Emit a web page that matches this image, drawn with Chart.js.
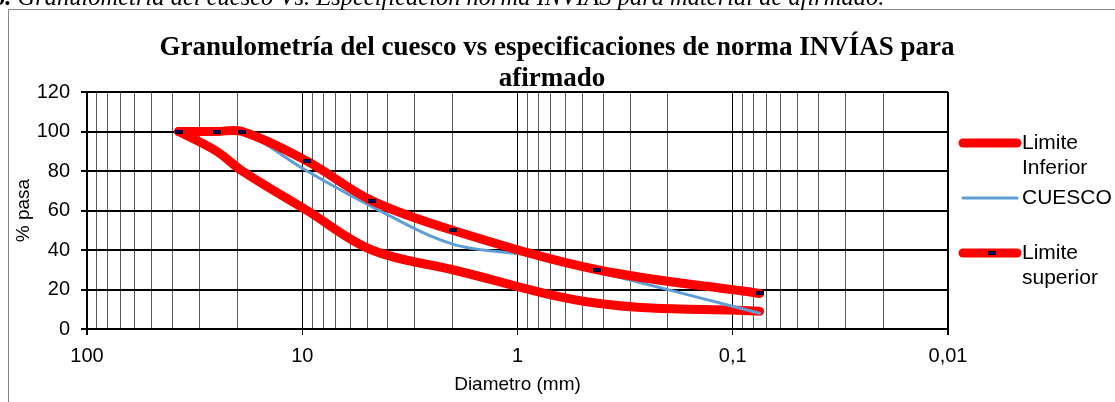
<!DOCTYPE html>
<html>
<head>
<meta charset="utf-8">
<script src="https://cdn.jsdelivr.net/npm/chart.js@4.4.0/dist/chart.umd.min.js"></script>
<style>
  html, body { margin: 0; padding: 0; background: #fff; overflow: hidden; }
  #myChart { position: absolute; left: 0; top: 0; }
</style>
</head>
<body>
<canvas id="myChart" width="1115" height="402"></canvas>
<script>
// sieve openings in mm and % passing
const limitSieves = [37.5, 25, 19, 9.5, 4.75, 2.0, 0.425, 0.075];
const lowerLimit = [100, 90, 80, 60, 40, 30, 13, 9];
const upperLimit = [100, 100, 100, 85, 65, 50, 30, 18];
const cuescoSieves = [37.5, 25, 19, 9.5, 4.75, 2.0, 0.85, 0.425, 0.075];
const cuescoPass = [100, 100, 100, 80, 62, 43, 37, 29, 8];

const xMajorTicks = [100, 10, 1, 0.1, 0.01];
const xMajorLabels = ['100', '10', '1', '0,1', '0,01'];
const seriesNames = ['Limite Inferior', 'CUESCO', 'Limite superior'];
const chartTitle = ['Granulometría del cuesco vs especificaciones de norma INVÍAS para', 'afirmado'];
const captionNum = '6.';
const captionText = ' Granulometría del cuesco Vs. Especificación norma INVIAS para material de afirmado.';

const sansFont = '"Liberation Sans", Arial, sans-serif';
const serifFont = '"Liberation Serif", "Times New Roman", serif';

// small navy rectangle used as marker for the upper limit
const marker = document.createElement('canvas');
marker.width = 8;
marker.height = 4;
const mctx = marker.getContext('2d');
mctx.fillStyle = '#000';
mctx.fillRect(0, 0, 8, 4);
mctx.fillStyle = '#00008b';
mctx.fillRect(1, 1, 6, 2);

function isMajor(v) {
  return xMajorTicks.some(m => Math.abs(m - v) < m * 1e-6);
}

function toPoints(xs, ys) {
  return xs.map((x, i) => ({ x: x, y: ys[i] }));
}

// title, legend and the outer frame of the sheet
const decorPlugin = {
  id: 'decor',
  beforeDraw(chart) {
    const ctx = chart.ctx;
    ctx.save();
    ctx.fillStyle = '#fff';
    ctx.fillRect(0, 0, chart.width, chart.height);
    ctx.strokeStyle = '#878787';
    ctx.lineWidth = 1;
    ctx.beginPath();
    ctx.moveTo(8.5, chart.height);
    ctx.lineTo(8.5, 9.5);
    ctx.lineTo(chart.width, 9.5);
    ctx.stroke();

    ctx.fillStyle = '#000';
    ctx.textBaseline = 'alphabetic';
    ctx.textAlign = 'left';
    ctx.font = 'italic bold 24.5px ' + serifFont;
    ctx.fillText(captionNum, -7, 5);
    const w = ctx.measureText(captionNum).width;
    ctx.font = 'italic 24.5px ' + serifFont;
    ctx.fillText(captionText, -7 + w, 5);
    ctx.restore();
  },
  afterDraw(chart) {
    const ctx = chart.ctx;
    ctx.save();
    ctx.fillStyle = '#000';
    ctx.textAlign = 'center';
    ctx.textBaseline = 'alphabetic';
    ctx.font = 'bold 27px ' + serifFont;
    ctx.fillText(chartTitle[0], 557, 55);
    ctx.fillText(chartTitle[1], 552, 86);

    const ds = chart.data.datasets;
    const rows = [
      { ds: ds[0], y: 143, lines: ['Limite', 'Inferior'] },
      { ds: ds[1], y: 198, lines: ['CUESCO'] },
      { ds: ds[2], y: 253, lines: ['Limite', 'superior'] }
    ];
    ctx.font = '21px ' + sansFont;
    ctx.textAlign = 'left';
    ctx.textBaseline = 'middle';
    rows.forEach(r => {
      ctx.strokeStyle = r.ds.borderColor;
      ctx.lineWidth = r.ds.borderWidth;
      ctx.lineCap = 'round';
      ctx.beginPath();
      ctx.moveTo(963, r.y);
      ctx.lineTo(1017, r.y);
      ctx.stroke();
      if (r.ds.pointRadius > 0) {
        ctx.drawImage(marker, 988, r.y - 2);
      }
      r.lines.forEach((t, i) => ctx.fillText(t, 1022, r.y + i * 25));
    });
    ctx.restore();
  }
};

const ctx = document.getElementById('myChart').getContext('2d');
const chart = new Chart(ctx, {
  type: 'line',
  data: {
    datasets: [
      {
        label: seriesNames[0],
        data: toPoints(limitSieves, lowerLimit),
        borderColor: '#ff0000',
        borderWidth: 9,
        borderCapStyle: 'round',
        borderJoinStyle: 'round',
        pointRadius: 0,
        tension: 0.35,
        order: 2
      },
      {
        label: seriesNames[1],
        data: toPoints(cuescoSieves, cuescoPass),
        borderColor: '#5f9dd6',
        borderWidth: 3,
        borderCapStyle: 'round',
        pointRadius: 0,
        tension: 0.35,
        order: 1
      },
      {
        label: seriesNames[2],
        data: toPoints(limitSieves, upperLimit),
        borderColor: '#ff0000',
        borderWidth: 9,
        borderCapStyle: 'round',
        borderJoinStyle: 'round',
        pointStyle: marker,
        pointRadius: 4,
        tension: 0.35,
        order: 0
      }
    ]
  },
  options: {
    responsive: false,
    animation: false,
    devicePixelRatio: 1,
    layout: { padding: { top: 92, right: 167, bottom: 0, left: 0 } },
    plugins: {
      legend: { display: false },
      title: { display: false },
      tooltip: { enabled: false }
    },
    scales: {
      x: {
        type: 'logarithmic',
        reverse: true,
        min: 0.01,
        max: 100,
        afterFit(scale) { scale.height = 73; },
        afterBuildTicks(scale) {
          const ticks = [];
          xMajorTicks.forEach(m => {
            ticks.push({ value: m });
            if (m < 100) {
              for (let k = 2; k <= 9; k++) ticks.push({ value: m * k });
            }
          });
          scale.ticks = ticks.sort((a, b) => a.value - b.value);
        },
        ticks: {
          autoSkip: false,
          maxRotation: 0,
          padding: 9,
          color: '#000',
          font: { family: sansFont, size: 20 },
          callback(value) {
            const i = xMajorTicks.findIndex(m => Math.abs(m - value) < m * 1e-6);
            return i >= 0 ? xMajorLabels[i] : '';
          }
        },
        grid: {
          color: c => (c.tick && isMajor(c.tick.value)) ? '#000' : '#5a5a5a',
          tickColor: c => (c.tick && isMajor(c.tick.value)) ? '#000' : 'rgba(0,0,0,0)',
          lineWidth: c => (c.tick && (c.tick.value === 100 || c.tick.value === 0.01)) ? 2 : 1,
          tickLength: 6
        },
        border: { color: '#000', width: 2 },
        title: {
          display: true,
          text: 'Diametro (mm)',
          color: '#000',
          font: { family: sansFont, size: 19 },
          padding: { top: 6, bottom: 6 }
        }
      },
      y: {
        min: 0,
        max: 120,
        afterFit(scale) { scale.width = 87; },
        ticks: {
          stepSize: 20,
          padding: 11,
          color: '#000',
          font: { family: sansFont, size: 20 }
        },
        grid: { color: '#000', lineWidth: 2, tickLength: 6 },
        border: { color: '#000', width: 2 },
        title: {
          display: true,
          text: '% pasa',
          color: '#000',
          font: { family: sansFont, size: 19 },
          padding: { top: 12, bottom: 12 }
        }
      }
    }
  },
  plugins: [decorPlugin]
});
</script>
</body>
</html>
